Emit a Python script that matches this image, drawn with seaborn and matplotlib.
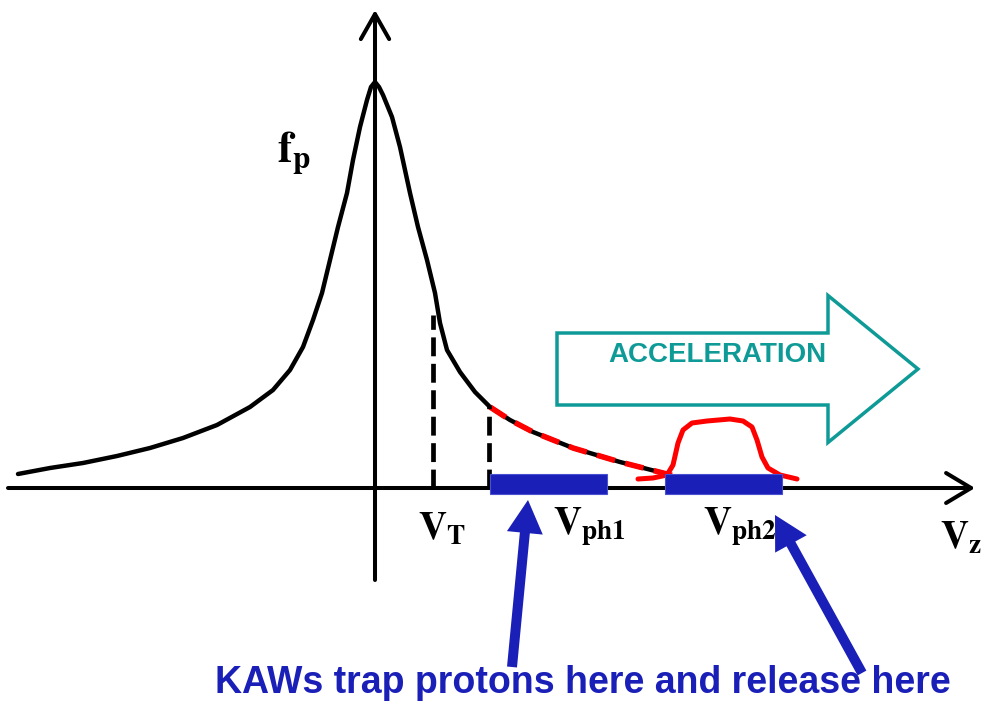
import matplotlib
matplotlib.use("Agg")
import matplotlib.pyplot as plt
import matplotlib.patches as mpatches
import numpy as np
import seaborn as sns

# velocity units: 1 unit = 100 px, origin at the axes crossing
curve_v = [-3.57, -3.25, -2.92, -2.58, -2.25, -1.92, -1.58, -1.25, -1.02, -0.85,
           -0.72, -0.62, -0.53, -0.45, -0.37, -0.28, -0.22, -0.15, -0.08, -0.04,
           0.0, 0.04, 0.08, 0.17, 0.25, 0.35, 0.43, 0.52, 0.60, 0.65, 0.72, 0.85,
           1.00, 1.15, 1.35, 1.58, 1.98, 2.45, 2.92]
curve_f = [0.14, 0.20, 0.25, 0.32, 0.40, 0.50, 0.63, 0.81, 0.98, 1.18,
           1.41, 1.68, 1.95, 2.28, 2.61, 2.95, 3.28, 3.61, 3.88, 4.01,
           4.06, 4.01, 3.93, 3.71, 3.41, 2.95, 2.61, 2.28, 1.95, 1.65, 1.38, 1.16,
           0.96, 0.81, 0.68, 0.56, 0.40, 0.26, 0.14]

tail_v = [1.15, 1.35, 1.58, 1.98, 2.45, 2.92, 3.07]
tail_f = [0.81, 0.68, 0.56, 0.40, 0.26, 0.14, 0.10]

bump_v = [2.63, 2.78, 2.92, 2.98, 3.03, 3.08, 3.17, 3.32, 3.55, 3.68, 3.77, 3.82,
          3.87, 3.93, 4.05, 4.22]
bump_f = [0.09, 0.10, 0.13, 0.23, 0.45, 0.58, 0.65, 0.67, 0.69, 0.67, 0.61, 0.48,
          0.31, 0.20, 0.13, 0.09]

marker_v = [0.58, 1.14]        # V_T and start of V_ph1 band
marker_f = [1.73, 0.83]

band_start = [1.15, 2.90]      # V_ph1, V_ph2 trapping bands
band_end = [2.32, 4.07]

labels = [r'$\mathbf{V}_{\mathbf{T}}$', r'$\mathbf{V}_{\mathbf{ph1}}$',
          r'$\mathbf{V}_{\mathbf{ph2}}$', r'$\mathbf{V}_{\mathbf{z}}$']
label_v = [0.43, 1.78, 3.28, 5.65]
label_f = [-0.52, -0.47, -0.47, -0.61]

BLUE = '#1a1fb8'
TEAL = '#0e9a96'
RED = '#ff0000'

sns.set_theme(style='white')
plt.rcParams['mathtext.fontset'] = 'stix'

fig = plt.figure(figsize=(9.92, 7.03), dpi=100)
ax = fig.add_axes([0, 0, 1, 1])
ax.set_xlim(-3.75, 6.17)
ax.set_ylim(-2.15, 4.88)
ax.axis('off')

# axes with open arrow heads
ax.annotate('', xy=(6.0, 0), xytext=(-3.67, 0),
            arrowprops=dict(arrowstyle='->,head_length=1.5,head_width=0.9', lw=2.9,
                            color='black', shrinkA=0, shrinkB=0))
ax.annotate('', xy=(0, 4.78), xytext=(0, -0.92),
            arrowprops=dict(arrowstyle='->,head_length=1.5,head_width=0.85', lw=2.9,
                            color='black', shrinkA=0, shrinkB=0))

# distribution function
sns.lineplot(x=curve_v, y=curve_f, ax=ax, color='black', lw=3.2, sort=False)
ax.lines[-1].set_solid_joinstyle('round')
sns.lineplot(x=tail_v, y=tail_f, ax=ax, color=RED, lw=4.0, sort=False)
ax.lines[-1].set_dashes((3.4, 1.9))
sns.lineplot(x=bump_v, y=bump_f, ax=ax, color=RED, lw=3.6, sort=False)
ax.lines[-1].set_solid_joinstyle('round')

# dashed markers
for v, f in zip(marker_v, marker_f):
    ax.plot([v, v], [0, f], color='black', lw=3.4, dashes=(4, 1.6))

# trapping bands
ax.barh(y=0.04, width=np.array(band_end) - np.array(band_start), left=band_start,
        height=0.2, color=BLUE, edgecolor='#4a50d0', lw=0.8, zorder=3)

for txt, v, f in zip(labels, label_v, label_f):
    ax.text(v, f, txt, fontsize=28, color='black', ha='left', va='baseline')
ax.text(-0.98, 3.26, r'$\mathbf{f}_{\mathbf{p}}$', fontsize=32, color='black',
        ha='left', va='baseline')

# acceleration arrow
acc = mpatches.FancyArrow(1.82, 1.19, 3.61, 0, width=0.72, head_width=1.47,
                          head_length=0.90, length_includes_head=True,
                          fill=False, edgecolor=TEAL, lw=2.5)
ax.add_patch(acc)
ax.text(3.42, 1.33, 'ACCELERATION', fontsize=20, color=TEAL, fontweight='bold',
        family='Liberation Sans', ha='center', va='center')

# pointer arrows
ax.arrow(1.37, -1.79, 0.16, 1.67, width=0.1, head_width=0.36, head_length=0.33,
         length_includes_head=True, color=BLUE, lw=0)
ax.arrow(4.87, -1.85, -0.87, 1.58, width=0.1, head_width=0.36, head_length=0.33,
         length_includes_head=True, color=BLUE, lw=0)

ax.text(-1.60, -2.05, 'KAWs trap protons here and release here', fontsize=27,
        color=BLUE, fontweight='bold', family='Liberation Sans', ha='left', va='baseline')

fig.savefig('out.png', dpi=100)
